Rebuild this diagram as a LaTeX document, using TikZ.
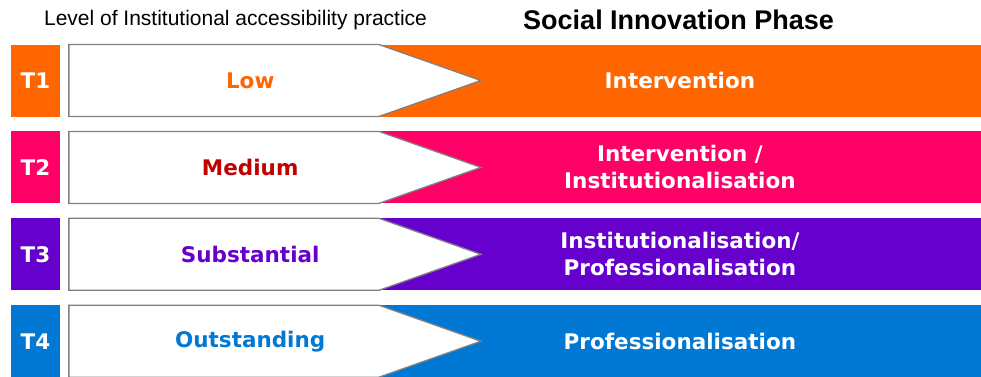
\documentclass[tikz,border=0pt]{standalone}
\usepackage{fontspec}
\setmainfont{Liberation Sans}
\newfontfamily\verd{DejaVu Sans}
\usepackage{tikz}
\usetikzlibrary{shapes.symbols}
\usetikzlibrary{calc}
\usetikzlibrary{positioning}

\definecolor{tone}{HTML}{FF6600}
\definecolor{ttwo}{HTML}{FF0066}
\definecolor{tthree}{HTML}{6600CC}
\definecolor{tfour}{HTML}{0078D4}
\definecolor{medred}{HTML}{C00000}

\begin{document}
\begin{tikzpicture}[x=1pt,y=1pt,node distance=14.5pt]
	\tikzstyle{tag}=[rectangle, draw=none, minimum width=49pt, minimum height=72pt, inner sep=0pt, text=white, font=\verd\bfseries\fontsize{21.5}{24}\selectfont]
	\tikzstyle{band}=[rectangle, draw=none, minimum width=603pt, minimum height=72pt, inner sep=0pt, text=white, align=center, font=\verd\bfseries\fontsize{21.5}{27}\selectfont]
	\tikzstyle{level}=[signal, signal to=east, signal pointer angle=38.9, fill=white, draw=gray, line width=1.3pt, minimum width=412pt, minimum height=72pt, inner sep=0pt]
	\tikzstyle{lvltext}=[font=\verd\bfseries\fontsize{21.5}{24}\selectfont]
	\useasboundingbox (0,0) rectangle (981,-376);

	\node (h1) at (235.5,-20) {\fontsize{21}{24}\selectfont Level of Institutional accessibility practice};
	\node (h2) at (678.5,-20) {\fontsize{27}{30}\selectfont\bfseries Social Innovation Phase};

	\node[tag, fill=tone] (t1) at (35.5,-80.5) {T1};
	\node[tag, fill=ttwo] (t2) [below=of t1] {T2};
	\node[tag, fill=tthree] (t3) [below=of t2] {T3};
	\node[tag, fill=tfour] (t4) [below=of t3] {T4};

	\node[band, fill=tone] (b1) [right=318pt of t1] {Intervention};
	\node[band, fill=ttwo] (b2) [right=318pt of t2] {Intervention /\\Institutionalisation};
	\node[band, fill=tthree] (b3) [right=318pt of t3] {Institutionalisation/\\Professionalisation};
	\node[band, fill=tfour] (b4) [right=318pt of t4] {Professionalisation};

	\node[level] (a1) [right=8pt of t1] {};
	\node[level] (a2) [right=8pt of t2] {};
	\node[level] (a3) [right=8pt of t3] {};
	\node[level] (a4) [right=8pt of t4] {};

	\node[lvltext, text=tone] (l1) at ($(a1.west)+(182,0)$) {Low};
	\node[lvltext, text=medred] (l2) at ($(a2.west)+(182,0)$) {Medium};
	\node[lvltext, text=tthree] (l3) at ($(a3.west)+(182,0)$) {Substantial};
	\node[lvltext, text=tfour] (l4) at ($(a4.west)+(182,0)$) {Outstanding};
\end{tikzpicture}
\end{document}
